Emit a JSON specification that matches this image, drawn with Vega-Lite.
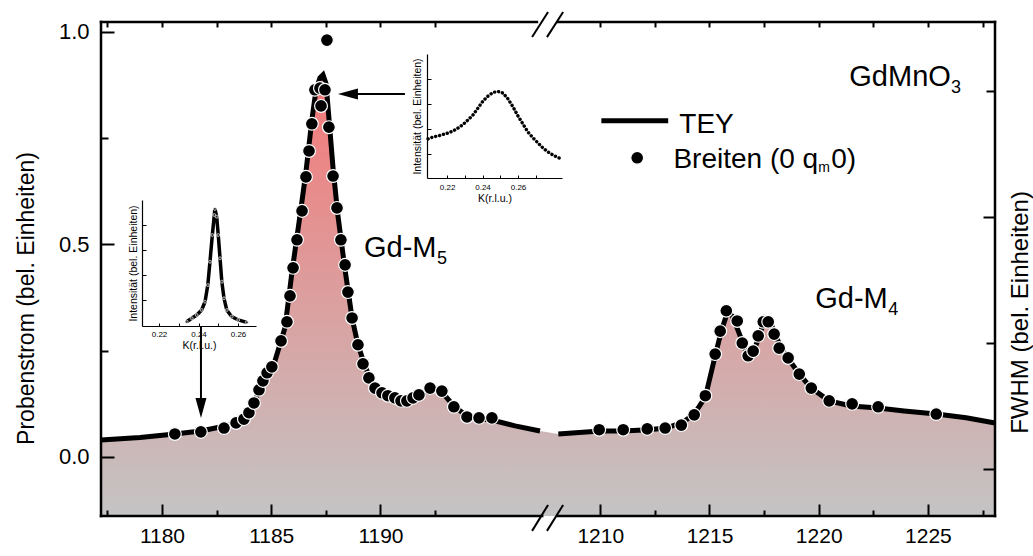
{
  "$schema": "https://vega.github.io/schema/vega-lite/v6.json",
  "width": 894,
  "height": 494,
  "autosize": {"type": "none"},
  "padding": {"left": 101, "top": 22, "right": 38, "bottom": 40},
  "background": "white",
  "config": {
    "view": {"stroke": null},
    "font": "Liberation Sans",
    "axis": {"grid": false, "domain": false, "tickColor": "black", "labelColor": "black", "titleColor": "black", "labelFont": "Liberation Sans", "titleFont": "Liberation Sans", "titleFontWeight": "normal", "labelOverlap": false, "labelFlush": false}
  },
  "datasets": {
    "tey": [
      {"e": 1177.21, "i": 0.040, "seg": "a"}, {"e": 1179.0, "i": 0.046, "seg": "a"}, {"e": 1180.59, "i": 0.054, "seg": "a"},
      {"e": 1181.78, "i": 0.061, "seg": "a"}, {"e": 1183.11, "i": 0.075, "seg": "a"}, {"e": 1184.03, "i": 0.104, "seg": "a"},
      {"e": 1184.58, "i": 0.172, "seg": "a"}, {"e": 1185.17, "i": 0.226, "seg": "a"}, {"e": 1185.63, "i": 0.304, "seg": "a"},
      {"e": 1185.95, "i": 0.435, "seg": "a"}, {"e": 1186.32, "i": 0.569, "seg": "a"}, {"e": 1186.59, "i": 0.671, "seg": "a"},
      {"e": 1186.86, "i": 0.793, "seg": "a"}, {"e": 1187.05, "i": 0.864, "seg": "a"}, {"e": 1187.23, "i": 0.892, "seg": "a"},
      {"e": 1187.37, "i": 0.899, "seg": "a"}, {"e": 1187.51, "i": 0.878, "seg": "a"}, {"e": 1187.64, "i": 0.798, "seg": "a"},
      {"e": 1187.83, "i": 0.680, "seg": "a"}, {"e": 1188.05, "i": 0.569, "seg": "a"}, {"e": 1188.38, "i": 0.440, "seg": "a"},
      {"e": 1188.70, "i": 0.327, "seg": "a"}, {"e": 1188.97, "i": 0.264, "seg": "a"}, {"e": 1189.29, "i": 0.214, "seg": "a"},
      {"e": 1189.61, "i": 0.174, "seg": "a"}, {"e": 1190.07, "i": 0.151, "seg": "a"}, {"e": 1190.66, "i": 0.139, "seg": "a"},
      {"e": 1191.12, "i": 0.134, "seg": "a"}, {"e": 1191.58, "i": 0.139, "seg": "a"}, {"e": 1192.04, "i": 0.153, "seg": "a"},
      {"e": 1192.36, "i": 0.165, "seg": "a"}, {"e": 1192.72, "i": 0.158, "seg": "a"}, {"e": 1193.36, "i": 0.120, "seg": "a"},
      {"e": 1193.96, "i": 0.096, "seg": "a"}, {"e": 1194.55, "i": 0.089, "seg": "a"}, {"e": 1195.10, "i": 0.087, "seg": "a"},
      {"e": 1196.16, "i": 0.073, "seg": "a"}, {"e": 1197.30, "i": 0.061, "seg": "a"},
      {"e": 1208.08, "i": 0.054, "seg": "b"}, {"e": 1210.0, "i": 0.061, "seg": "b"}, {"e": 1211.05, "i": 0.061, "seg": "b"},
      {"e": 1212.20, "i": 0.064, "seg": "b"}, {"e": 1213.02, "i": 0.068, "seg": "b"}, {"e": 1213.80, "i": 0.082, "seg": "b"},
      {"e": 1214.30, "i": 0.101, "seg": "b"}, {"e": 1214.81, "i": 0.141, "seg": "b"}, {"e": 1215.26, "i": 0.238, "seg": "b"},
      {"e": 1215.54, "i": 0.296, "seg": "b"}, {"e": 1215.81, "i": 0.339, "seg": "b"}, {"e": 1216.04, "i": 0.332, "seg": "b"},
      {"e": 1216.32, "i": 0.296, "seg": "b"}, {"e": 1216.64, "i": 0.252, "seg": "b"}, {"e": 1216.82, "i": 0.238, "seg": "b"},
      {"e": 1217.05, "i": 0.252, "seg": "b"}, {"e": 1217.28, "i": 0.285, "seg": "b"}, {"e": 1217.55, "i": 0.327, "seg": "b"},
      {"e": 1217.74, "i": 0.322, "seg": "b"}, {"e": 1218.01, "i": 0.289, "seg": "b"}, {"e": 1218.28, "i": 0.256, "seg": "b"},
      {"e": 1218.65, "i": 0.228, "seg": "b"}, {"e": 1219.11, "i": 0.195, "seg": "b"}, {"e": 1219.66, "i": 0.162, "seg": "b"},
      {"e": 1220.48, "i": 0.132, "seg": "b"}, {"e": 1221.49, "i": 0.120, "seg": "b"}, {"e": 1222.72, "i": 0.115, "seg": "b"},
      {"e": 1223.91, "i": 0.108, "seg": "b"}, {"e": 1225.38, "i": 0.101, "seg": "b"}, {"e": 1226.75, "i": 0.092, "seg": "b"},
      {"e": 1228.07, "i": 0.080, "seg": "b"}
    ],
    "pts": [
      {"e": 1180.59, "i": 0.054}, {"e": 1181.78, "i": 0.059}, {"e": 1182.84, "i": 0.068}, {"e": 1183.39, "i": 0.080},
      {"e": 1183.75, "i": 0.089}, {"e": 1183.98, "i": 0.104}, {"e": 1184.21, "i": 0.127}, {"e": 1184.44, "i": 0.158},
      {"e": 1184.62, "i": 0.179}, {"e": 1184.81, "i": 0.198}, {"e": 1185.03, "i": 0.212}, {"e": 1185.45, "i": 0.273},
      {"e": 1185.72, "i": 0.318}, {"e": 1185.86, "i": 0.379}, {"e": 1186.00, "i": 0.445}, {"e": 1186.18, "i": 0.511},
      {"e": 1186.41, "i": 0.579}, {"e": 1186.59, "i": 0.659}, {"e": 1186.73, "i": 0.720}, {"e": 1186.86, "i": 0.784},
      {"e": 1187.00, "i": 0.864}, {"e": 1187.23, "i": 0.868}, {"e": 1187.46, "i": 0.864}, {"e": 1187.28, "i": 0.826},
      {"e": 1187.64, "i": 0.776}, {"e": 1187.83, "i": 0.661}, {"e": 1188.01, "i": 0.586}, {"e": 1188.19, "i": 0.511},
      {"e": 1188.38, "i": 0.452}, {"e": 1188.51, "i": 0.388}, {"e": 1188.70, "i": 0.327}, {"e": 1188.97, "i": 0.264},
      {"e": 1189.20, "i": 0.219}, {"e": 1189.47, "i": 0.186}, {"e": 1189.75, "i": 0.162}, {"e": 1190.07, "i": 0.151},
      {"e": 1190.34, "i": 0.144}, {"e": 1190.66, "i": 0.139}, {"e": 1190.94, "i": 0.132}, {"e": 1191.21, "i": 0.132},
      {"e": 1191.49, "i": 0.139}, {"e": 1191.76, "i": 0.146}, {"e": 1192.27, "i": 0.162}, {"e": 1192.81, "i": 0.155},
      {"e": 1193.36, "i": 0.118}, {"e": 1193.96, "i": 0.094}, {"e": 1194.51, "i": 0.092}, {"e": 1195.10, "i": 0.092},
      {"e": 1187.55, "i": 0.981},
      {"e": 1209.95, "i": 0.064}, {"e": 1211.05, "i": 0.064}, {"e": 1212.15, "i": 0.066}, {"e": 1212.97, "i": 0.068},
      {"e": 1213.71, "i": 0.075}, {"e": 1214.30, "i": 0.099}, {"e": 1214.81, "i": 0.144}, {"e": 1215.26, "i": 0.242},
      {"e": 1215.49, "i": 0.296}, {"e": 1215.77, "i": 0.344}, {"e": 1216.27, "i": 0.320}, {"e": 1216.50, "i": 0.268},
      {"e": 1216.77, "i": 0.238}, {"e": 1217.00, "i": 0.249}, {"e": 1217.23, "i": 0.285}, {"e": 1217.46, "i": 0.318},
      {"e": 1217.69, "i": 0.318}, {"e": 1217.96, "i": 0.289}, {"e": 1218.19, "i": 0.256}, {"e": 1218.60, "i": 0.233},
      {"e": 1219.11, "i": 0.195}, {"e": 1219.66, "i": 0.162}, {"e": 1220.48, "i": 0.132}, {"e": 1221.53, "i": 0.125},
      {"e": 1222.72, "i": 0.118}, {"e": 1225.38, "i": 0.101}
    ],
    "frame": [
      {"x": 1177.21, "x2": 1177.21, "y": -0.139, "y2": 1.0235},
      {"x": 1228.07, "x2": 1228.07, "y": -0.139, "y2": 1.0235},
      {"x": 1177.21, "x2": 1197.40, "y": -0.139, "y2": -0.139},
      {"x": 1208.06, "x2": 1228.07, "y": -0.139, "y2": -0.139},
      {"x": 1177.21, "x2": 1197.16, "y": 1.0235, "y2": 1.0235},
      {"x": 1208.06, "x2": 1228.07, "y": 1.0235, "y2": 1.0235}
    ],
    "slashes": [
      {"x": 1196.94, "x2": 1207.61, "y": 0.988, "y2": 1.047},
      {"x": 1207.56, "x2": 1208.30, "y": 0.988, "y2": 1.047},
      {"x": 1196.94, "x2": 1207.61, "y": -0.174, "y2": -0.113},
      {"x": 1207.56, "x2": 1208.30, "y": -0.174, "y2": -0.113}
    ],
    "ins1": [
      {"k": 0.2093, "v": 0.315}, {"k": 0.2121, "v": 0.331}, {"k": 0.2149, "v": 0.339}, {"k": 0.2177, "v": 0.351},
      {"k": 0.2206, "v": 0.363}, {"k": 0.2234, "v": 0.379}, {"k": 0.2262, "v": 0.403}, {"k": 0.2290, "v": 0.431},
      {"k": 0.2318, "v": 0.468}, {"k": 0.2346, "v": 0.508}, {"k": 0.2375, "v": 0.565}, {"k": 0.2403, "v": 0.621},
      {"k": 0.2431, "v": 0.661}, {"k": 0.2459, "v": 0.690}, {"k": 0.2487, "v": 0.698}, {"k": 0.2515, "v": 0.685},
      {"k": 0.2544, "v": 0.637}, {"k": 0.2572, "v": 0.573}, {"k": 0.2600, "v": 0.500}, {"k": 0.2628, "v": 0.435},
      {"k": 0.2656, "v": 0.371}, {"k": 0.2685, "v": 0.323}, {"k": 0.2713, "v": 0.282}, {"k": 0.2741, "v": 0.242},
      {"k": 0.2769, "v": 0.210}, {"k": 0.2797, "v": 0.185}, {"k": 0.2825, "v": 0.165}, {"k": 0.2848, "v": 0.153}
    ],
    "ins2": [
      {"k": 0.2340, "v": 0.034}, {"k": 0.2366, "v": 0.061}, {"k": 0.2391, "v": 0.087}, {"k": 0.2416, "v": 0.127},
      {"k": 0.2433, "v": 0.193}, {"k": 0.2447, "v": 0.325}, {"k": 0.2458, "v": 0.510}, {"k": 0.2470, "v": 0.722},
      {"k": 0.2480, "v": 0.881}, {"k": 0.2483, "v": 0.929}, {"k": 0.2492, "v": 0.867}, {"k": 0.2500, "v": 0.722},
      {"k": 0.2509, "v": 0.537}, {"k": 0.2518, "v": 0.352}, {"k": 0.2529, "v": 0.220}, {"k": 0.2543, "v": 0.127},
      {"k": 0.2568, "v": 0.074}, {"k": 0.2601, "v": 0.048}, {"k": 0.2644, "v": 0.029}
    ]
  },
  "layer": [
    {
      "layer": [
        {
          "data": {"name": "tey"},
          "mark": {"type": "area", "fill": {"gradient": "linear", "x1": 0, "y1": 0, "x2": 0, "y2": 1, "stops": [{"offset": 0, "color": "#f47878"}, {"offset": 1, "color": "#c4c4c4"}]}},
          "encoding": {
            "x": {"field": "e", "type": "quantitative",
              "scale": {"domain": [1177.21, 1197.53, 1207.47, 1228.07], "range": [0, 444, 444, 894], "zero": false, "nice": false},
              "axis": {"orient": "bottom", "values": [1180, 1185, 1190, 1210, 1215, 1220, 1225], "format": "d", "tickSize": -12, "tickWidth": 2, "labelPadding": 21, "labelFontSize": 21, "title": null, "zindex": 1}},
            "y": {"field": "i", "type": "quantitative",
              "scale": {"domain": [-0.139, 1.0235], "zero": false, "nice": false},
              "axis": {"orient": "left", "values": [0, 0.5, 1.0], "format": ".1f", "tickSize": -13, "tickWidth": 2, "labelPadding": 25, "labelFontSize": 22, "title": "Probenstrom (bel. Einheiten)", "titleFontSize": 23, "titlePadding": 20, "titleY": 276, "zindex": 1}},
            "y2": {"datum": -0.139}
          }
        },
        {
          "data": {"name": "tey"},
          "mark": {"type": "line", "color": "black", "strokeWidth": 5},
          "encoding": {
            "x": {"field": "e", "type": "quantitative",
              "axis": {"orient": "bottom", "values": [1177.5, 1182.5, 1187.5, 1192.5, 1212.5, 1217.5, 1222.5, 1227.5], "tickSize": -6, "tickWidth": 2, "labels": false, "title": null, "zindex": 1}},
            "y": {"field": "i", "type": "quantitative",
              "axis": {"orient": "left", "values": [0.25, 0.75], "tickSize": -7, "tickWidth": 2, "labels": false, "title": null, "zindex": 1}},
            "detail": {"field": "seg"}
          }
        },
        {
          "data": {"name": "pts"},
          "mark": {"type": "point", "shape": "circle", "filled": true, "fill": "black", "stroke": "white", "strokeWidth": 1.2, "size": 165, "opacity": 1},
          "encoding": {
            "x": {"field": "e", "type": "quantitative",
              "axis": {"orient": "top", "values": [1177.5, 1180, 1182.5, 1185, 1187.5, 1190, 1192.5, 1210, 1212.5, 1215, 1217.5, 1220, 1222.5, 1225, 1227.5], "tickSize": -5, "tickWidth": 2, "labels": false, "title": null, "zindex": 1}},
            "y": {"field": "i", "type": "quantitative",
              "axis": {"orient": "right", "values": [0.565, -0.028], "tickSize": -12, "tickWidth": 2, "labels": false, "title": "FWHM (bel. Einheiten)", "titleFontSize": 24, "titleAngle": 270, "titleBaseline": "top", "titlePadding": 12, "titleY": 290, "zindex": 1}}
          }
        },
        {
          "data": {"values": [{"x": 1210.05, "x2": 1213.11, "y": 0.791}]},
          "mark": {"type": "rule", "color": "black", "strokeWidth": 5},
          "encoding": {
            "x": {"field": "x", "type": "quantitative", "axis": null},
            "x2": {"field": "x2"},
            "y": {"field": "y", "type": "quantitative",
              "axis": {"orient": "right", "values": [0.268, 0.861], "tickSize": -9, "tickWidth": 2, "labels": false, "title": null, "zindex": 1}}
          }
        },
        {
          "data": {"values": [{"x": 1211.69, "y": 0.704}]},
          "mark": {"type": "point", "shape": "circle", "filled": true, "fill": "black", "stroke": "white", "strokeWidth": 1.2, "size": 165, "opacity": 1},
          "encoding": {
            "x": {"field": "x", "type": "quantitative", "axis": null},
            "y": {"field": "y", "type": "quantitative", "axis": null}
          }
        },
        {
          "data": {"values": [
            {"x": 1213.62, "y": 0.762, "t": "TEY"},
            {"x": 1213.35, "y": 0.680, "t": "Breiten (0 q"},
            {"x": 1220.57, "y": 0.680, "t": "0)"}
          ]},
          "mark": {"type": "text", "align": "left", "baseline": "alphabetic", "fontSize": 28, "font": "Liberation Sans", "color": "black"},
          "encoding": {
            "x": {"field": "x", "type": "quantitative", "axis": null},
            "y": {"field": "y", "type": "quantitative", "axis": null},
            "text": {"field": "t"}
          }
        },
        {
          "data": {"values": [{"x": 1219.98, "y": 0.671, "t": "m"}]},
          "mark": {"type": "text", "align": "left", "baseline": "alphabetic", "fontSize": 14, "font": "Liberation Sans", "color": "black"},
          "encoding": {
            "x": {"field": "x", "type": "quantitative", "axis": null},
            "y": {"field": "y", "type": "quantitative", "axis": null},
            "text": {"field": "t"}
          }
        },
        {
          "data": {"values": [
            {"x": 1189.245, "y": 0.4706, "t": "Gd-M"},
            {"x": 1219.84, "y": 0.3506, "t": "Gd-M"},
            {"x": 1221.40, "y": 0.873, "t": "GdMnO"}
          ]},
          "mark": {"type": "text", "align": "left", "baseline": "alphabetic", "fontSize": 29, "font": "Liberation Sans", "color": "black"},
          "encoding": {
            "x": {"field": "x", "type": "quantitative", "axis": null},
            "y": {"field": "y", "type": "quantitative", "axis": null},
            "text": {"field": "t"}
          }
        },
        {
          "data": {"values": [
            {"x": 1192.585, "y": 0.4541, "t": "5"},
            {"x": 1223.18, "y": 0.334, "t": "4"},
            {"x": 1226.06, "y": 0.8565, "t": "3"}
          ]},
          "mark": {"type": "text", "align": "left", "baseline": "alphabetic", "fontSize": 18, "font": "Liberation Sans", "color": "black"},
          "encoding": {
            "x": {"field": "x", "type": "quantitative", "axis": null},
            "y": {"field": "y", "type": "quantitative", "axis": null},
            "text": {"field": "t"}
          }
        },
        {
          "data": {"values": [
            {"x": 1191.12, "x2": 1188.70, "y": 0.854, "y2": 0.854},
            {"x": 1181.785, "x2": 1181.785, "y": 0.306, "y2": 0.125}
          ]},
          "mark": {"type": "rule", "color": "black", "strokeWidth": 2},
          "encoding": {
            "x": {"field": "x", "type": "quantitative", "axis": null},
            "x2": {"field": "x2"},
            "y": {"field": "y", "type": "quantitative", "axis": null},
            "y2": {"field": "y2"}
          }
        },
        {
          "data": {"values": [{"x": 1188.51, "y": 0.854}]},
          "mark": {"type": "point", "shape": "M-1,0L1,-0.55L1,0.55Z", "filled": true, "color": "black", "size": 400, "opacity": 1},
          "encoding": {
            "x": {"field": "x", "type": "quantitative", "axis": null},
            "y": {"field": "y", "type": "quantitative", "axis": null}
          }
        },
        {
          "data": {"values": [{"x": 1181.785, "y": 0.1153}]},
          "mark": {"type": "point", "shape": "M0,1L-0.55,-1L0.55,-1Z", "filled": true, "color": "black", "size": 400, "opacity": 1},
          "encoding": {
            "x": {"field": "x", "type": "quantitative", "axis": null},
            "y": {"field": "y", "type": "quantitative", "axis": null}
          }
        },
        {
          "data": {"name": "frame"},
          "mark": {"type": "rule", "color": "black", "strokeWidth": 2.5, "strokeCap": "square"},
          "encoding": {
            "x": {"field": "x", "type": "quantitative", "axis": null},
            "x2": {"field": "x2"},
            "y": {"field": "y", "type": "quantitative", "axis": null},
            "y2": {"field": "y2"}
          }
        },
        {
          "data": {"name": "slashes"},
          "mark": {"type": "rule", "color": "black", "strokeWidth": 2},
          "encoding": {
            "x": {"field": "x", "type": "quantitative", "axis": null},
            "x2": {"field": "x2"},
            "y": {"field": "y", "type": "quantitative", "axis": null},
            "y2": {"field": "y2"}
          }
        }
      ],
      "resolve": {"axis": {"x": "independent", "y": "independent"}}
    },
    {
      "data": {"name": "ins1"},
      "mark": {"type": "line", "color": "black", "strokeWidth": 3.4, "strokeDash": [0.1, 3.9], "strokeCap": "round"},
      "encoding": {
        "x": {"field": "k", "type": "quantitative",
          "scale": {"domain": [0.2087, 0.2848], "range": [326, 461], "zero": false, "nice": false},
          "axis": {"orient": "bottom", "offset": -338, "values": [0.22, 0.23, 0.24, 0.25, 0.26, 0.27], "labelExpr": "(round(datum.value*100) % 2 == 0) ? format(datum.value, '.2f') : ''", "domain": true, "domainColor": "black", "domainWidth": 1.2, "tickSize": -3, "tickWidth": 1, "labelFontSize": 8, "labelPadding": 8, "title": "K(r.l.u.)", "titleFontSize": 10.5, "titlePadding": 2, "zindex": 1}},
        "y": {"field": "v", "type": "quantitative",
          "scale": {"domain": [0, 1], "range": [156, 32], "zero": false, "nice": false},
          "axis": {"orient": "left", "offset": -326, "values": [0.194, 0.395, 0.597, 0.798], "labels": false, "domain": true, "domainColor": "black", "domainWidth": 1.2, "tickSize": -4, "tickWidth": 1, "title": "Intensität (bel. Einheiten)", "titleFontSize": 10.5, "titlePadding": 4, "zindex": 1}}
      }
    },
    {
      "data": {"name": "ins2"},
      "mark": {"type": "line", "color": "black", "strokeWidth": 3.5, "point": {"filled": true, "fill": "#333333", "stroke": "white", "strokeWidth": 0.6, "size": 9, "opacity": 1}},
      "encoding": {
        "x": {"field": "k", "type": "quantitative",
          "scale": {"domain": [0.2114, 0.2691], "range": [41, 155], "zero": false, "nice": false},
          "axis": {"orient": "bottom", "offset": -190, "values": [0.22, 0.23, 0.24, 0.25, 0.26], "labelExpr": "(round(datum.value*100) % 2 == 0) ? format(datum.value, '.2f') : ''", "domain": true, "domainColor": "black", "domainWidth": 1.2, "tickSize": -3, "tickWidth": 1, "labelFontSize": 8, "labelPadding": 7, "title": "K(r.l.u.)", "titleFontSize": 10.5, "titlePadding": 2, "zindex": 1}},
        "y": {"field": "v", "type": "quantitative",
          "scale": {"domain": [0, 1], "range": [304, 178], "zero": false, "nice": false},
          "axis": {"orient": "left", "offset": -41, "values": [0.206, 0.405, 0.603, 0.802], "labels": false, "domain": true, "domainColor": "black", "domainWidth": 1.2, "tickSize": -4, "tickWidth": 1, "title": "Intensität (bel. Einheiten)", "titleFontSize": 10.5, "titlePadding": 3, "zindex": 1}}
      }
    }
  ],
  "resolve": {"scale": {"x": "independent", "y": "independent"}, "axis": {"x": "independent", "y": "independent"}}
}
